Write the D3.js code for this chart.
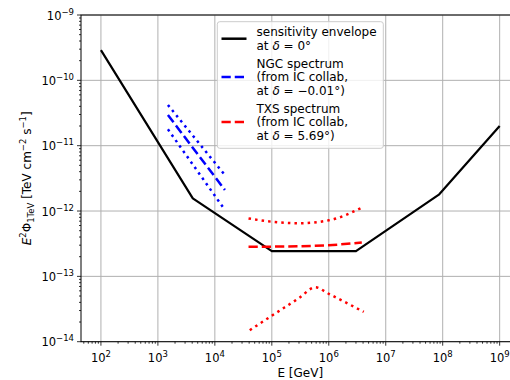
<!DOCTYPE html>
<html>
<head>
<meta charset="utf-8">
<script src="https://cdn.jsdelivr.net/npm/d3@7"></script>
<style>
  html, body { margin: 0; padding: 0; background: #fff; }
  svg { display: block; font-family: "DejaVu Sans", sans-serif; }
</style>
</head>
<body>
<svg id="chart" width="510" height="380"></svg>
<script>
// Sensitivity envelope at declination 0 deg (energy in GeV, E^2 flux in TeV cm^-2 s^-1)
const envelopeEnergy = [1e2, 4.1e3, 1e5, 3e6, 8.7e7, 1e9];
const envelopeFlux   = [2.9e-10, 1.56e-12, 2.43e-13, 2.43e-13, 1.8e-12, 2.0e-11];

// NGC 1068 spectrum: best fit and band edges
const ngcEnergy   = [1.5e3, 1.5e4];
const ngcFlux     = [2.95e-11, 2.1e-12];
const ngcFluxHigh = [4.2e-11, 3.55e-12];
const ngcFluxLow  = [1.78e-11, 1.04e-12];

// TXS 0506+056 spectrum: best fit and band edges
const txsEnergy     = [3.9e4, 1e5, 1e6, 3.8e6];
const txsFlux       = [2.83e-13, 2.85e-13, 3.0e-13, 3.3e-13];
const txsHighEnergy = [3.9e4, 1e5, 3e5, 1e6, 4e6];
const txsFluxHigh   = [7.7e-13, 6.85e-13, 6.5e-13, 7.2e-13, 1.15e-12];
const txsLowEnergy  = [4.1e4, 1e5, 3e5, 5.8e5, 1e6, 4.1e6];
const txsFluxLow    = [1.5e-14, 2.5e-14, 4.65e-14, 6.8e-14, 5.4e-14, 2.86e-14];

const xExponents = [2, 3, 4, 5, 6, 7, 8, 9];
const yExponents = [-14, -13, -12, -11, -10, -9];

const legendEntries = [
  { lines: ["sensitivity envelope", "at δ = 0°"], color: "#000", dash: null },
  { lines: ["NGC spectrum", "(from IC collab,", "at δ = −0.01°)"], color: "#0000ff", dash: "9.25,4" },
  { lines: ["TXS spectrum", "(from IC collab,", "at δ = 5.69°)"], color: "#ff0000", dash: "9.25,4" }
];

const svg = d3.select("#chart");
const plotLeft = 81, plotRight = 519.6, plotTop = 15, plotBottom = 341.7;

const x = d3.scaleLog().domain([Math.pow(10, 1.65), Math.pow(10, 9.35)]).range([plotLeft, plotRight]);
const y = d3.scaleLog().domain([1e-14, 1e-9]).range([plotBottom, plotTop]);

const plot = svg.append("g");

// grid at decades
plot.append("g").selectAll("line").data(xExponents).join("line")
  .attr("x1", d => x(Math.pow(10, d))).attr("x2", d => x(Math.pow(10, d)))
  .attr("y1", plotTop).attr("y2", plotBottom)
  .attr("stroke", "#b0b0b0").attr("stroke-width", 1);
plot.append("g").selectAll("line").data(yExponents).join("line")
  .attr("y1", d => y(Math.pow(10, d))).attr("y2", d => y(Math.pow(10, d)))
  .attr("x1", plotLeft).attr("x2", plotRight)
  .attr("stroke", "#b0b0b0").attr("stroke-width", 1);

// curves
function drawCurve(xs, ys, color, width, dash, curve) {
  const line = d3.line().x(d => x(d[0])).y(d => y(d[1])).curve(curve || d3.curveLinear);
  plot.append("path")
    .datum(xs.map((e, i) => [e, ys[i]]))
    .attr("d", line)
    .attr("fill", "none")
    .attr("stroke", color)
    .attr("stroke-width", width)
    .attr("stroke-dasharray", dash)
    .attr("stroke-linejoin", "round");
}

const dotted = "2.5,4.1";
drawCurve(envelopeEnergy, envelopeFlux, "#000", 2.2, null);
drawCurve(ngcEnergy, ngcFlux, "#0000ff", 2.5, "9.25,4");
drawCurve(ngcEnergy, ngcFluxHigh, "#0000ff", 2.5, dotted);
drawCurve(ngcEnergy, ngcFluxLow, "#0000ff", 2.5, dotted);
drawCurve(txsEnergy, txsFlux, "#ff0000", 2.5, "9.25,4", d3.curveMonotoneX);
drawCurve(txsHighEnergy, txsFluxHigh, "#ff0000", 2.5, dotted, d3.curveMonotoneX);
drawCurve(txsLowEnergy, txsFluxLow, "#ff0000", 2.5, dotted, d3.curveMonotoneX);

// frame
plot.append("rect")
  .attr("x", plotLeft).attr("y", plotTop)
  .attr("width", plotRight - plotLeft).attr("height", plotBottom - plotTop)
  .attr("fill", "none").attr("stroke", "#000").attr("stroke-width", 1);

// ticks
function minorValues(scale) {
  const [a, b] = scale.domain();
  const out = [];
  for (let e = Math.floor(Math.log10(a)); e <= Math.ceil(Math.log10(b)); e++) {
    for (let m = 2; m <= 9; m++) {
      const v = m * Math.pow(10, e);
      if (v >= a && v <= b) out.push(v);
    }
  }
  return out;
}

const ticks = svg.append("g").attr("stroke", "#000").attr("stroke-width", 0.8);
ticks.selectAll(".xmaj").data(xExponents).join("line")
  .attr("x1", d => x(Math.pow(10, d))).attr("x2", d => x(Math.pow(10, d)))
  .attr("y1", plotBottom).attr("y2", plotBottom + 4);
ticks.selectAll(".xmin").data(minorValues(x)).join("line")
  .attr("x1", d => x(d)).attr("x2", d => x(d))
  .attr("y1", plotBottom).attr("y2", plotBottom + 2);
ticks.selectAll(".ymaj").data(yExponents).join("line")
  .attr("y1", d => y(Math.pow(10, d))).attr("y2", d => y(Math.pow(10, d)))
  .attr("x1", plotLeft).attr("x2", plotLeft - 4);
ticks.selectAll(".ymin").data(minorValues(y)).join("line")
  .attr("y1", d => y(d)).attr("y2", d => y(d))
  .attr("x1", plotLeft).attr("x2", plotLeft - 2);

function powerLabel(sel, exp) {
  sel.append("tspan").text("10");
  sel.append("tspan").attr("dy", -5).attr("font-size", 8.5)
    .text(exp < 0 ? "−" + Math.abs(exp) : String(exp));
}

const tickFont = 11.5;
svg.append("g").selectAll("text").data(xExponents).join("text")
  .attr("x", d => x(Math.pow(10, d)))
  .attr("y", plotBottom + 20)
  .attr("text-anchor", "middle")
  .attr("font-size", tickFont)
  .each(function (d) { powerLabel(d3.select(this), d); });

svg.append("g").selectAll("text").data(yExponents).join("text")
  .attr("x", plotLeft - 7)
  .attr("y", d => y(Math.pow(10, d)) + 4.5)
  .attr("text-anchor", "end")
  .attr("font-size", tickFont)
  .each(function (d) { powerLabel(d3.select(this), d); });

// axis titles
svg.append("text")
  .attr("x", (plotLeft + plotRight) / 2).attr("y", 377)
  .attr("text-anchor", "middle").attr("font-size", 12)
  .text("E [GeV]");

const yl = svg.append("text")
  .attr("transform", `translate(31, ${(plotTop + plotBottom) / 2}) rotate(-90)`)
  .attr("text-anchor", "middle").attr("font-size", 12);
yl.append("tspan").attr("font-style", "italic").text("E");
yl.append("tspan").attr("dy", -5).attr("font-size", 8.5).text("2");
yl.append("tspan").attr("dy", 5).text("Φ");
yl.append("tspan").attr("dy", 2.5).attr("font-size", 8.5).text("1TeV");
yl.append("tspan").attr("dy", -2.5).text(" [TeV cm");
yl.append("tspan").attr("dy", -5).attr("font-size", 8.5).text("−2");
yl.append("tspan").attr("dy", 5).text(" s");
yl.append("tspan").attr("dy", -5).attr("font-size", 8.5).text("−1");
yl.append("tspan").attr("dy", 5).text("]");

// legend
const lg = svg.append("g");
lg.append("rect")
  .attr("x", 217.3).attr("y", 21.7).attr("width", 166).attr("height", 126.6)
  .attr("rx", 2.5)
  .attr("fill", "#fff").attr("fill-opacity", 0.8)
  .attr("stroke", "#cccccc").attr("stroke-width", 1);

const lineStep = 13.4, entryGap = 18.2;
let cy = 32;
legendEntries.forEach(entry => {
  const n = entry.lines.length;
  const midY = cy + (n - 1) * lineStep / 2;
  lg.append("line")
    .attr("x1", 221.5).attr("x2", 246.5)
    .attr("y1", midY).attr("y2", midY)
    .attr("stroke", entry.color).attr("stroke-width", 2.5)
    .attr("stroke-dasharray", entry.dash);
  entry.lines.forEach((t, i) => {
    const txt = lg.append("text")
      .attr("x", 256.5).attr("y", cy + i * lineStep + 4.3)
      .attr("font-size", 12);
    const k = t.indexOf("δ");
    if (k >= 0) {
      txt.append("tspan").text(t.slice(0, k));
      txt.append("tspan").attr("font-style", "italic").text("δ");
      txt.append("tspan").text(t.slice(k + 1));
    } else {
      txt.text(t);
    }
  });
  cy += (n - 1) * lineStep + entryGap;
});
</script>
</body>
</html>
